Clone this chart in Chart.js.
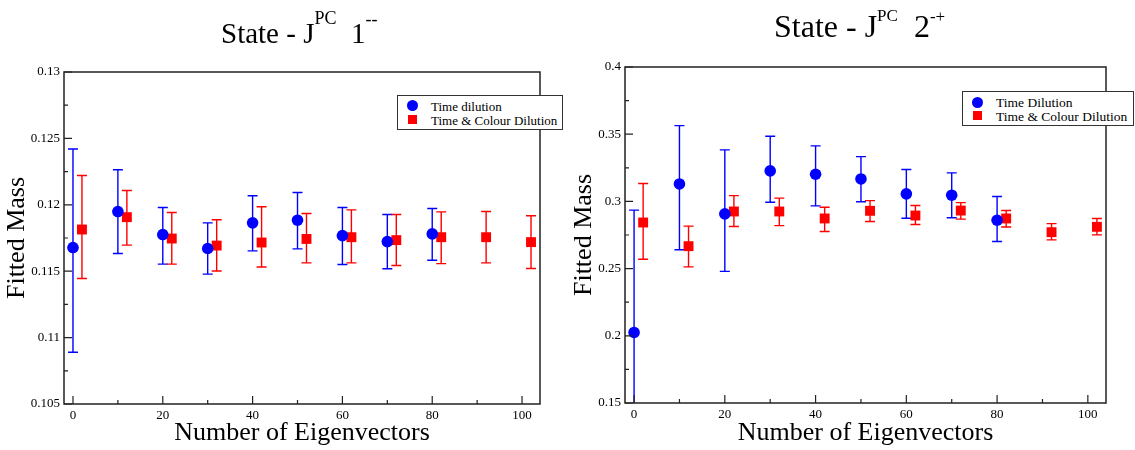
<!DOCTYPE html>
<html>
<head>
<meta charset="utf-8">
<script src="https://cdn.jsdelivr.net/npm/chart.js@4.4.1/dist/chart.umd.min.js"></script>
<style>
  body { margin: 0; background: #fff; font-family: "Liberation Serif", "Times New Roman", serif; }
  #wrap { position: relative; width: 1135px; height: 450px; overflow: hidden; }
  canvas { position: absolute; top: 0; }
  .title { position: absolute; white-space: nowrap; color: #000; line-height: 1; }
  .title sup { vertical-align: baseline; position: relative; }
  .legend { position: absolute; background: #fff; border: 1px solid #333; box-sizing: border-box; color: #000; }
  .legend .txt { position: absolute; white-space: nowrap; line-height: 1; }
  .dot { position: absolute; border-radius: 50%; background: #0000ff; }
  .sq  { position: absolute; background: #ff0000; }
</style>
</head>
<body>
<div id="wrap">
  <canvas id="vecChart" width="567" height="450" style="left:0"></canvas>
  <canvas id="tenChart" width="568" height="450" style="left:567px"></canvas>

  <div class="title" style="left:221px; top:19px; font-size:29px;">State - J<sup style="font-size:18px; top:-19px;">PC</sup>&nbsp; 1<sup style="font-size:18px; top:-18px;">--</sup></div>
  <div class="title" style="left:774px; top:10px; font-size:32px;">State - J<sup style="font-size:17px; top:-16px;">PC</sup>&nbsp; 2<sup style="font-size:17px; top:-15px;">-+</sup></div>

  <div class="legend" style="left:397px; top:95px; width:166px; height:35px; font-size:13px;">
    <div class="dot" style="left:9px; top:4px; width:11px; height:11px;"></div>
    <div class="txt" style="left:33px; top:4px;">Time dilution</div>
    <div class="sq" style="left:10px; top:19px; width:9px; height:9px;"></div>
    <div class="txt" style="left:33px; top:18px;">Time &amp; Colour Dilution</div>
  </div>
  <div class="legend" style="left:962px; top:91px; width:172px; height:35px; font-size:13.5px;">
    <div class="dot" style="left:9px; top:5px; width:11px; height:11px;"></div>
    <div class="txt" style="left:33px; top:4px;">Time Dilution</div>
    <div class="sq" style="left:10px; top:19px; width:9px; height:9px;"></div>
    <div class="txt" style="left:33px; top:18px;">Time &amp; Colour Dilution</div>
  </div>
</div>

<script>
// number of eigenvectors (colour-diluted set is drawn shifted by 2)
const eigenX      = [0, 10, 20, 30, 40, 50, 60, 70, 80];
const eigenXShift = [2, 12, 22, 32, 42, 52, 62, 72, 82, 92, 102];

// J^PC 1--
const vecTime     = [0.11678, 0.11949, 0.11776, 0.11671, 0.11864, 0.11884, 0.11768, 0.11723, 0.11781];
const vecTimeLo   = [0.10890, 0.11633, 0.11553, 0.11478, 0.11653, 0.11668, 0.11550, 0.11518, 0.11583];
const vecTimeHi   = [0.12420, 0.12264, 0.11980, 0.11864, 0.12068, 0.12093, 0.11980, 0.11927, 0.11972];
const vecColour   = [0.11814, 0.11907, 0.11746, 0.11693, 0.11716, 0.11743, 0.11756, 0.11734, 0.11756, 0.11756, 0.11719];
const vecColourLo = [0.11445, 0.11696, 0.11553, 0.11502, 0.11532, 0.11563, 0.11563, 0.11543, 0.11557, 0.11563, 0.11520];
const vecColourHi = [0.12221, 0.12108, 0.11942, 0.11887, 0.11985, 0.11935, 0.11962, 0.11927, 0.11947, 0.11949, 0.11917];

// J^PC 2-+
const tenTime     = [0.2025, 0.3130, 0.2907, 0.3227, 0.3202, 0.3167, 0.3056, 0.3046, 0.2860];
const tenTimeLo   = [0.1115, 0.2640, 0.2479, 0.2994, 0.2967, 0.2997, 0.2875, 0.2878, 0.2702];
const tenTimeHi   = [0.2935, 0.3564, 0.3383, 0.3485, 0.3413, 0.3333, 0.3237, 0.3212, 0.3036];
const tenColour   = [0.2843, 0.2667, 0.2925, 0.2925, 0.2873, 0.2930, 0.2895, 0.2932, 0.2873, 0.2771, 0.2811];
const tenColourLo = [0.2570, 0.2513, 0.2813, 0.2820, 0.2776, 0.2850, 0.2828, 0.2868, 0.2809, 0.2714, 0.2751];
const tenColourHi = [0.3133, 0.2816, 0.3043, 0.3024, 0.2957, 0.3006, 0.2969, 0.2991, 0.2932, 0.2835, 0.2873];

// ticks
const xTicks       = [0, 20, 40, 60, 80, 100];
const xTickLabels  = ["0", "20", "40", "60", "80", "100"];
const vecYTicks    = [0.105, 0.11, 0.115, 0.12, 0.125, 0.13];
const vecYLabels   = ["0.105", "0.11", "0.115", "0.12", "0.125", "0.13"];
const tenYTicks    = [0.15, 0.2, 0.25, 0.3, 0.35, 0.4];
const tenYLabels   = ["0.15", "0.2", "0.25", "0.3", "0.35", "0.4"];

const FONT = "'Liberation Serif', 'Times New Roman', serif";
Chart.defaults.font.family = FONT;
Chart.defaults.color = "#000";

function toPoints(xs, ys) {
  return xs.map((x, i) => ({ x: x, y: ys[i] }));
}

function midpoints(arr) {
  const out = [];
  for (let i = 0; i < arr.length - 1; i++) out.push((arr[i] + arr[i + 1]) / 2);
  return out;
}

// error bars behind the markers
const errorBars = {
  id: "errorBars",
  beforeDatasetsDraw(chart) {
    const { ctx, chartArea: a, scales: { x, y } } = chart;
    ctx.save();
    ctx.beginPath();
    ctx.rect(a.left, a.top, a.right - a.left, a.bottom - a.top);
    ctx.clip();
    chart.data.datasets.forEach(ds => {
      ctx.strokeStyle = ds.borderColor;
      ctx.lineWidth = 1.4;
      ds.data.forEach((p, i) => {
        const px = x.getPixelForValue(p.x);
        const lo = y.getPixelForValue(ds.errLo[i]);
        const hi = y.getPixelForValue(ds.errHi[i]);
        ctx.beginPath();
        ctx.moveTo(px, lo); ctx.lineTo(px, hi);
        ctx.moveTo(px - 5, lo); ctx.lineTo(px + 5, lo);
        ctx.moveTo(px - 5, hi); ctx.lineTo(px + 5, hi);
        ctx.stroke();
      });
    });
    ctx.restore();
  }
};

// box frame and inward tick marks
const frame = {
  id: "frame",
  afterDatasetsDraw(chart, args, opts) {
    const { ctx, chartArea: a, scales: { x, y } } = chart;
    ctx.save();
    ctx.strokeStyle = "#222";
    ctx.lineWidth = 1.5;
    ctx.strokeRect(a.left, a.top, a.right - a.left, a.bottom - a.top);
    ctx.beginPath();
    xTicks.forEach(v => { const px = x.getPixelForValue(v); ctx.moveTo(px, a.bottom); ctx.lineTo(px, a.bottom - 8); });
    midpoints(xTicks).forEach(v => { const px = x.getPixelForValue(v); ctx.moveTo(px, a.bottom); ctx.lineTo(px, a.bottom - 4); });
    opts.yTicks.forEach(v => { const py = y.getPixelForValue(v); ctx.moveTo(a.left, py); ctx.lineTo(a.left + 8, py); });
    midpoints(opts.yTicks).forEach(v => { const py = y.getPixelForValue(v); ctx.moveTo(a.left, py); ctx.lineTo(a.left + 4, py); });
    ctx.lineWidth = 1.2;
    ctx.stroke();
    ctx.restore();
  }
};

function buildChart(id, cfg) {
  return new Chart(document.getElementById(id).getContext("2d"), {
    type: "scatter",
    data: {
      datasets: [
        { label: cfg.names[0], data: toPoints(eigenX, cfg.time), errLo: cfg.timeLo, errHi: cfg.timeHi,
          backgroundColor: "#0000ff", borderColor: "#0000ff", pointStyle: "circle", pointRadius: 5.8, borderWidth: 0 },
        { label: cfg.names[1], data: toPoints(eigenXShift, cfg.colour), errLo: cfg.colourLo, errHi: cfg.colourHi,
          backgroundColor: "#ff0000", borderColor: "#ff0000", pointStyle: "rect", pointRadius: 7, borderWidth: 0 }
      ]
    },
    options: {
      responsive: false,
      animation: false,
      events: [],
      layout: { padding: { top: cfg.top, right: cfg.right, left: 0, bottom: 0 } },
      plugins: { legend: { display: false }, tooltip: { enabled: false }, frame: { yTicks: cfg.yTicks } },
      scales: {
        x: {
          type: "linear", min: -2, max: 104,
          grid: { display: false, drawTicks: false }, border: { display: false },
          afterBuildTicks: s => { s.ticks = xTicks.map(v => ({ value: v })); },
          afterFit: s => { s.height = cfg.xh; },
          ticks: { padding: 4, color: "#000", font: { size: 13 }, maxRotation: 0, autoSkip: false,
                   callback: (v, i) => xTickLabels[i] },
          title: { display: true, text: "Number of Eigenvectors", color: "#000",
                   font: { size: 26, lineHeight: 1.2 }, padding: { top: 0, bottom: 1 } }
        },
        y: {
          type: "linear", min: cfg.yTicks[0], max: cfg.yTicks[cfg.yTicks.length - 1],
          grid: { display: false, drawTicks: false }, border: { display: false },
          afterBuildTicks: s => { s.ticks = cfg.yTicks.map(v => ({ value: v })); },
          afterFit: s => { s.width = cfg.yw; },
          ticks: { padding: 4, color: "#000", font: { size: 13 }, autoSkip: false,
                   callback: (v, i) => cfg.yLabels[i] },
          title: { display: true, text: "Fitted Mass", color: "#000",
                   font: { size: 26, lineHeight: 1.2 }, padding: { top: 2, bottom: 0 } }
        }
      }
    },
    plugins: [errorBars, frame]
  });
}

const vecChart = buildChart("vecChart", {
  names: ["Time dilution", "Time & Colour Dilution"],
  time: vecTime, timeLo: vecTimeLo, timeHi: vecTimeHi,
  colour: vecColour, colourLo: vecColourLo, colourHi: vecColourHi,
  yTicks: vecYTicks, yLabels: vecYLabels,
  top: 72, right: 27, xh: 46, yw: 64
});

const tenChart = buildChart("tenChart", {
  names: ["Time Dilution", "Time & Colour Dilution"],
  time: tenTime, timeLo: tenTimeLo, timeHi: tenTimeHi,
  colour: tenColour, colourLo: tenColourLo, colourHi: tenColourHi,
  yTicks: tenYTicks, yLabels: tenYLabels,
  top: 67, right: 29, xh: 47, yw: 58
});
</script>
</body>
</html>
